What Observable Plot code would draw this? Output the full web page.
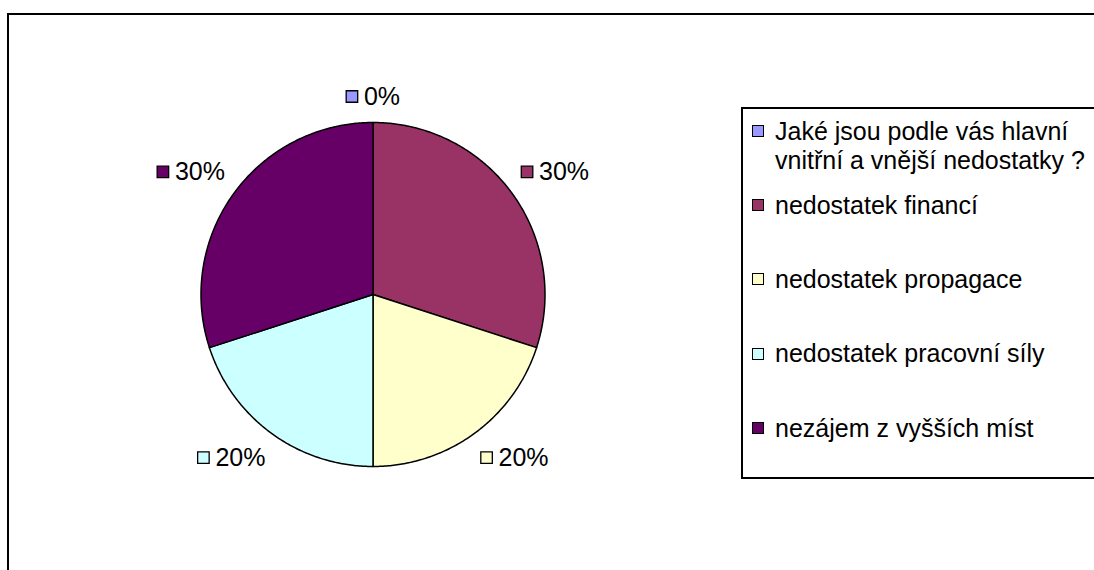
<!DOCTYPE html>
<html><head><meta charset="utf-8">
<script src="https://cdn.jsdelivr.net/npm/d3@7"></script>
<script src="https://cdn.jsdelivr.net/npm/@observablehq/plot@0.6"></script>
<style>
html,body{margin:0;padding:0;background:#fff;overflow:hidden;width:1094px;height:570px}
#wrap{position:relative;width:1094px;height:570px;font-family:"Liberation Sans",Arial,sans-serif;overflow:hidden}
#frame{position:absolute;left:7px;top:13px;width:1200px;height:700px;border:2px solid #000;box-sizing:border-box}
#chart{position:absolute;left:0;top:0}
#legend{position:absolute;left:741px;top:107px;width:420px;height:372px;border:2px solid #000;box-sizing:border-box;background:#fff}
.item{position:absolute;left:32px;font-size:25px;line-height:29px;color:#000;width:330px}
.sw{position:absolute;left:9px;width:12px;height:12px;border:1.5px solid #000;box-sizing:border-box}
</style>
</head><body>
<div id="wrap"><div id="frame"></div><div id="chart"></div><div id="legend"></div></div>
<script>
const categories = [
  "Jaké jsou podle vás hlavní vnitřní a vnější nedostatky ?",
  "nedostatek financí",
  "nedostatek propagace",
  "nedostatek pracovní síly",
  "nezájem z vyšších míst"
];
const percents = [0, 30, 20, 20, 30];
const colors = ["#9999FF", "#993366", "#FFFFCC", "#CCFFFF", "#660066"];

// layout
const CX = 372.5, CY = 294, R = 172;
const FONT = 25;
const ctx = document.createElement("canvas").getContext("2d");
ctx.font = `${FONT}px "Liberation Sans", Arial, sans-serif`;

const arcs = d3.pie().sort(null).value(d => d)(percents);
const slices = [];
arcs.forEach((a, i) => {
  if (a.endAngle - a.startAngle <= 0) return;
  slices.push({cat: categories[i], x: 0, y: 0});
  const n = Math.max(2, Math.ceil((a.endAngle - a.startAngle) / 0.01));
  for (let k = 0; k <= n; k++) {
    const t = a.startAngle + (a.endAngle - a.startAngle) * k / n;
    slices.push({cat: categories[i], x: Math.sin(t), y: Math.cos(t)});
  }
});

// label boxes: corner touching a point just outside the rim on the mid angle
const gap = 11, boxH = 30;
const sgn = v => Math.abs(v) < 1e-9 ? 0 : Math.sign(v);
const labels = arcs.map((a, i) => {
  const mid = (a.startAngle + a.endAngle) / 2;
  const txt = percents[i] + "%";
  const w = 18 + ctx.measureText(txt).width;
  const s = Math.sin(mid), c = Math.cos(mid);
  return {
    cat: categories[i], txt, w,
    x: s * (1 + gap / R),
    y: c * (1 + gap / R),
    ox: sgn(s) * w / 2 - w / 2,
    oy: -sgn(c) * boxH / 2
  };
});

const plot = Plot.plot({
  width: 1094, height: 570,
  margin: 0,
  x: {domain: [-1, 1], range: [CX - R, CX + R], axis: null},
  y: {domain: [-1, 1], range: [CY + R, CY - R], axis: null},
  color: {domain: categories, range: colors},
  style: {background: "transparent", fontFamily: '"Liberation Sans", Arial, sans-serif'},
  marks: [
    Plot.line(slices, {x: "x", y: "y", z: "cat", fill: "cat", stroke: "#000", strokeWidth: 1.5, curve: "linear-closed"}),
    ...labels.map(l => Plot.dot([l], {x: "x", y: "y", dx: l.ox + 6, dy: l.oy, symbol: "square", r: 6.5, fill: "cat", stroke: "#000", strokeWidth: 1.3})),
    ...labels.map(l => Plot.text([l], {x: "x", y: "y", dx: l.ox + 18, dy: l.oy, text: "txt", textAnchor: "start", fontSize: FONT, fill: "#000"}))
  ]
});
document.getElementById("chart").appendChild(plot);

// legend
const leg = document.getElementById("legend");
const centers = [22, 96, 170.3, 244.6, 319];
categories.forEach((c, i) => {
  const sw = document.createElement("div");
  sw.className = "sw";
  sw.style.top = (centers[i] - 6) + "px";
  sw.style.background = colors[i];
  leg.appendChild(sw);
  const it = document.createElement("div");
  it.className = "item";
  it.style.top = (centers[i] - 14.5) + "px";
  it.textContent = c;
  leg.appendChild(it);
});
</script>
</body></html>
